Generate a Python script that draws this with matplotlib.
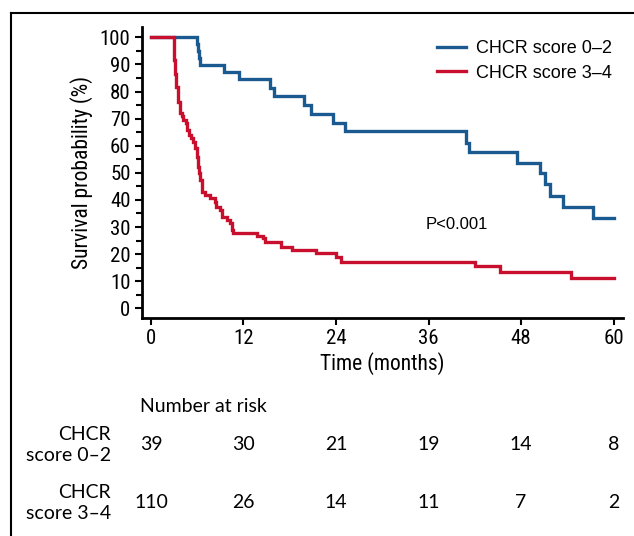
import matplotlib
matplotlib.use("Agg")
import matplotlib.pyplot as plt
from matplotlib import font_manager
from matplotlib.lines import Line2D
from matplotlib.ticker import MultipleLocator

# pick fonts that exist in the sandbox
names = {f.name for f in font_manager.fontManager.ttflist}
def pick(*cands):
    for c in cands:
        if c in names:
            return c
    return "DejaVu Sans"

narrow = pick("Liberation Sans Narrow", "Roboto Condensed", "Open Sans", "DejaVu Sans")
plain = pick("Liberation Sans", "Arimo", "DejaVu Sans")
table_font = pick("Lato", "Noto Sans", "DejaVu Sans")

# Kaplan-Meier curves (months, % surviving)
low_t = [0, 6.0, 6.12, 6.25, 6.4, 9.5, 11.4, 15.4, 15.9, 19.9, 20.8, 23.6, 25.2,
         40.9, 41.3, 47.5, 50.5, 51.1, 51.7, 53.4, 57.3, 60]
low_s = [100, 97.4, 94.9, 92.3, 89.7, 87.2, 84.6, 81.2, 78.3, 75.0, 71.7, 68.3, 65.4,
         61.1, 57.6, 53.7, 49.8, 45.8, 41.5, 37.5, 33.2, 33.2]

high_t = [0, 2.98, 3.1, 3.24, 3.46, 3.76, 4.06, 4.2, 4.49, 4.7, 4.97, 5.15, 5.48, 5.7,
          5.92, 6.05, 6.26, 6.4, 6.57, 7.0, 7.65, 8.29, 8.4, 8.94, 9.2, 9.8, 10.2, 10.45,
          10.6, 13.7, 14.5, 14.8, 16.9, 18.3, 21.4, 24.0, 24.6, 42.0, 45.3, 54.5, 60]
high_s = [100, 91.6, 86.5, 81.8, 76.2, 72.0, 71.0, 69.5, 68.3, 65.8, 64.0, 62.7, 61.5, 59.0,
          55.9, 52.3, 49.8, 47.3, 43.0, 41.8, 40.6, 39.3, 37.5, 36.3, 33.8, 32.6, 31.4, 28.9,
          27.7, 26.7, 25.8, 24.6, 22.7, 21.5, 20.3, 18.8, 17.0, 15.7, 13.5, 11.1, 11.1]

risk_times = [0, 12, 24, 36, 48, 60]
risk_low = [39, 30, 21, 19, 14, 8]
risk_high = [110, 26, 14, 11, 7, 2]

blue = "#1a5a91"
red = "#c8102e"

fig = plt.figure(figsize=(6.34, 5.36), dpi=100)
ax = fig.add_axes([0.2235, 0.4076, 0.759, 0.5420])

ax.step(low_t, low_s, where="post", color=blue, lw=2.4, solid_joinstyle="miter")
ax.step(high_t, high_s, where="post", color=red, lw=2.4, solid_joinstyle="miter")

ax.set_xlim(-1.2, 61.2)
ax.set_ylim(-3.4, 103.8)
ax.set_xticks(risk_times)
ax.yaxis.set_major_locator(MultipleLocator(10))
ax.yaxis.set_minor_locator(MultipleLocator(5))
ax.set_yticks(range(0, 101, 10))

for s in ["top", "right"]:
    ax.spines[s].set_visible(False)
for s in ["left", "bottom"]:
    ax.spines[s].set_linewidth(2.0)

ax.tick_params(axis="both", which="major", direction="out", length=5, width=1.5,
               labelsize=15, pad=3)
ax.tick_params(axis="y", which="minor", direction="out", length=4, width=1.5)
for lab in ax.get_xticklabels() + ax.get_yticklabels():
    lab.set_fontfamily(narrow)

ax.set_xlabel("Time (months)", fontsize=15.5, family=narrow, labelpad=3)
ax.set_ylabel("Survival probability (%)", fontsize=15.5, family=narrow, labelpad=5)

ax.text(39.7, 31.1, "P<0.001", fontsize=12, family=plain, ha="center", va="center")

handles = [Line2D([], [], color=blue, lw=2.4), Line2D([], [], color=red, lw=2.4)]
ax.legend(handles, ["CHCR score 0–2", "CHCR score 3–4"], loc="upper right",
          bbox_to_anchor=(1.012, 1.01), frameon=False, handlelength=1.6,
          handletextpad=0.6, labelspacing=0.4, prop={"family": plain, "size": 13})

# number at risk table below the axes
fs = 14
fig.text(140 / 634, 1 - 407 / 536, "Number at risk", fontsize=fs, family=table_font,
         ha="left", va="center")
labels = [("CHCR\nscore 0–2", risk_low, 445), ("CHCR\nscore 3–4", risk_high, 503)]
for name, counts, ypx in labels:
    fig.text(111 / 634, 1 - ypx / 536, name, fontsize=fs, family=table_font,
             ha="right", va="center", linespacing=1.3)
    for t, n in zip(risk_times, counts):
        xfig = ax.transData.transform((t, 0))[0] / fig.bbox.width
        fig.text(xfig, 1 - ypx / 536, str(n), fontsize=fs, family=table_font,
                 ha="center", va="center")

# partial frame around the panel
fig.add_artist(Line2D([11 / 634, 1.0], [1 - 13 / 536, 1 - 13 / 536], color="black", lw=1.5))
fig.add_artist(Line2D([11 / 634, 11 / 634], [0, 1 - 13 / 536], color="black", lw=1.5))

fig.savefig("out.png", dpi=100)
